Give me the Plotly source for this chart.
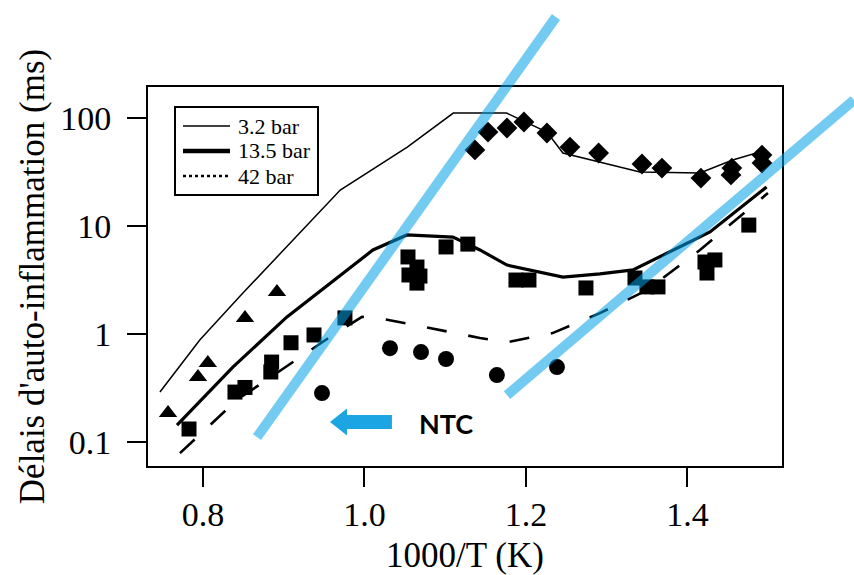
import plotly.graph_objects as go
import numpy as np

# ---- model curves (x = 1000/T, y = delay in ms) ----
thin_x = [0.7467, 0.796, 0.846, 0.904, 0.970, 1.053, 1.110, 1.176, 1.226, 1.2458, 1.3412, 1.4155, 1.456, 1.498]
thin_y = [0.29, 0.88, 2.25, 6.4, 21.5, 53.8, 111, 111, 74, 47.4, 31.6, 31, 40.8, 50.6]

thick_x = [0.7678, 0.837, 0.904, 0.970, 1.0105, 1.0526, 1.1096, 1.143, 1.1765, 1.2458, 1.2916, 1.3325, 1.382, 1.4279, 1.498]
thick_y = [0.1435, 0.494, 1.44, 3.52, 6.0, 8.26, 7.9, 6.0, 4.35, 3.37, 3.6, 3.92, 6.0, 8.8, 23]

dash_x = [0.7715, 0.842, 0.961, 0.997, 1.019, 1.081, 1.143, 1.1765, 1.233, 1.2916, 1.35, 1.4155, 1.4997]
dash_y = [0.079, 0.245, 0.98, 1.44, 1.40, 1.14, 0.92, 0.84, 1.02, 1.56, 2.55, 6.0, 20.2]

# ---- experimental points ----
tri_x = [0.7567, 0.7938, 0.806, 0.852, 0.8916]
tri_y = [0.186, 0.40, 0.54, 1.41, 2.45]

sq_x = [0.7827, 0.8396, 0.852, 0.884, 0.885, 0.909, 0.9375, 0.9758,
        1.0539, 1.065, 1.0551, 1.0687, 1.065, 1.101, 1.128, 1.1876, 1.2037,
        1.2743, 1.335, 1.3498, 1.3635, 1.4217, 1.434, 1.4242, 1.476]
sq_y = [0.132, 0.29, 0.32, 0.445, 0.55, 0.83, 0.98, 1.41,
        5.17, 4.17, 3.52, 3.44, 2.96, 6.4, 6.8, 3.16, 3.16,
        2.67, 3.3, 2.73, 2.73, 4.64, 4.85, 3.67, 10.2]

dia_x = [1.1368, 1.153, 1.1765, 1.1975, 1.226, 1.2545, 1.290, 1.3437, 1.3684, 1.4167, 1.455, 1.4539, 1.4923, 1.4923]
dia_y = [50.6, 74, 80.8, 91.8, 72.6, 53.8, 47.4, 37.5, 34.4, 27.8, 34.4, 29.7, 45.4, 38.3]

circ_x = [0.9474, 1.0316, 1.070, 1.101, 1.164, 1.2384]
circ_y = [0.284, 0.74, 0.68, 0.587, 0.417, 0.494]

# ---- legend / tick labels ----
legend_names = ["3.2 bar", "13.5 bar", "42 bar"]
x_ticks = [0.8, 1.0, 1.2, 1.4]
x_ticktext = ["0.8", "1.0", "1.2", "1.4"]
y_ticks = [0.1, 1, 10, 100]
y_ticktext = ["0.1", "1", "10", "100"]

# ---- blue guide lines (data units: x, y) ----
guide1 = [(0.8669, 0.111), (1.2372, 861.0)]
guide2 = [(1.1765, 0.272), (1.6062, 146.9)]
arrow_tip = (0.9573, 0.153)
arrow_tail = (1.034, 0.153)
ntc_pos = (1.065, 0.150)

XR = [0.7319, 1.5171]
YR = [-1.222, 2.287]

FIG_W, FIG_H = 854, 575
M_L, M_R, M_T, M_B = 148, 72, 87, 109
PW = FIG_W - M_L - M_R
PH = FIG_H - M_T - M_B

def px(x):
    return (x - XR[0]) / (XR[1] - XR[0])

def py(y):
    return (np.log10(y) - YR[0]) / (YR[1] - YR[0])

def pxp(p):   # pixel (from figure left) -> paper x
    return (p - M_L) / PW

def pyp(p):   # pixel (from figure top) -> paper y
    return 1 - (p - M_T) / PH

SERIF = "Liberation Serif, Times New Roman, serif"

fig = go.Figure()
line_style = [dict(width=1.5), dict(width=3.2), dict(width=2.6, dash="20px,22px")]
for name, xs, ys, st in [(legend_names[0], thin_x, thin_y, line_style[0]),
                         (legend_names[1], thick_x, thick_y, line_style[1]),
                         (legend_names[2], dash_x, dash_y, line_style[2])]:
    fig.add_trace(go.Scatter(x=xs, y=ys, mode="lines", name=name, line=dict(color="black", **st),
                             showlegend=False, hoverinfo="skip"))

fig.add_trace(go.Scatter(x=tri_x, y=tri_y, mode="markers", marker=dict(symbol="triangle-up", size=16, color="black"), showlegend=False))
fig.add_trace(go.Scatter(x=sq_x, y=sq_y, mode="markers", marker=dict(symbol="square", size=15, color="black"), showlegend=False))
fig.add_trace(go.Scatter(x=dia_x, y=dia_y, mode="markers", marker=dict(symbol="diamond", size=16, color="black"), showlegend=False))
fig.add_trace(go.Scatter(x=circ_x, y=circ_y, mode="markers", marker=dict(symbol="circle", size=16, color="black"), showlegend=False))

shapes = []
for g in (guide1, guide2):
    (xa, ya), (xb, yb) = g
    shapes.append(dict(type="line", xref="paper", yref="paper", x0=px(xa), y0=py(ya), x1=px(xb), y1=py(yb),
                       line=dict(color="rgba(0,160,230,0.55)", width=10), layer="above"))

# block arrow (pointing left) in paper coords
tx, ty = px(arrow_tip[0]), py(arrow_tip[1])
ex = px(arrow_tail[0])
head_len = 17 / PW
shaft_h = 7 / PH
head_h = 13.5 / PH
path = (f"M {tx},{ty} L {tx+head_len},{ty+head_h} L {tx+head_len},{ty+shaft_h} L {ex},{ty+shaft_h} "
        f"L {ex},{ty-shaft_h} L {tx+head_len},{ty-shaft_h} L {tx+head_len},{ty-head_h} Z")
shapes.append(dict(type="path", xref="paper", yref="paper", path=path, fillcolor="#1BA5E3", line=dict(width=0)))

# legend box drawn as shapes + text
annotations = []
shapes.append(dict(type="rect", xref="paper", yref="paper", x0=pxp(175), x1=pxp(318), y0=pyp(107), y1=pyp(195),
                   line=dict(color="black", width=2), fillcolor="white", layer="above"))
leg_styles = [dict(width=1.5), dict(width=4.5), dict(width=2.5, dash="dot")]
for i, (name, st) in enumerate(zip(legend_names, leg_styles)):
    yrow = pyp(126 + 25 * i)
    shapes.append(dict(type="line", xref="paper", yref="paper", x0=pxp(183), x1=pxp(230), y0=yrow, y1=yrow,
                       line=dict(color="black", **st), layer="above"))
    annotations.append(dict(x=pxp(236), y=yrow, xref="paper", yref="paper", text=name, showarrow=False,
                            xanchor="left", yanchor="middle",
                            font=dict(family=SERIF, size=22, color="black")))

annotations.append(dict(x=px(ntc_pos[0]), y=py(ntc_pos[1]), xref="paper", yref="paper", text="<b>NTC</b>",
                        showarrow=False, xanchor="left", yanchor="middle",
                        font=dict(family="Lato, Noto Sans, sans-serif", size=27, color="black")))

fig.update_layout(
    width=FIG_W, height=FIG_H,
    margin=dict(l=M_L, r=M_R, t=M_T, b=M_B),
    paper_bgcolor="white", plot_bgcolor="white",
    shapes=shapes,
    annotations=annotations,
    showlegend=False,
)
fig.update_xaxes(range=XR, tickvals=x_ticks, ticktext=x_ticktext, ticks="outside", ticklen=19, tickwidth=2,
                 tickcolor="black", showline=True, linecolor="black", linewidth=2, mirror=True, showgrid=False,
                 zeroline=False, tickfont=dict(family=SERIF, size=34, color="black"), ticklabelstandoff=-2,
                 automargin=False,
                 title=dict(text="1000/T (K)", font=dict(family=SERIF, size=35, color="black"), standoff=30))
fig.update_yaxes(type="log", range=YR, tickvals=y_ticks, ticktext=y_ticktext, ticks="outside", ticklen=19, tickwidth=2,
                 tickcolor="black", showline=True, linecolor="black", linewidth=2, mirror=True, showgrid=False,
                 zeroline=False, tickfont=dict(family=SERIF, size=34, color="black"), ticklabelstandoff=9,
                 automargin=False,
                 title=dict(text="Délais d'auto-inflammation (ms)", font=dict(family=SERIF, size=35, color="black"), standoff=5))

fig.write_html("out.html", config={"displayModeBar": False},
               post_script="document.body.style.margin='0px';")
